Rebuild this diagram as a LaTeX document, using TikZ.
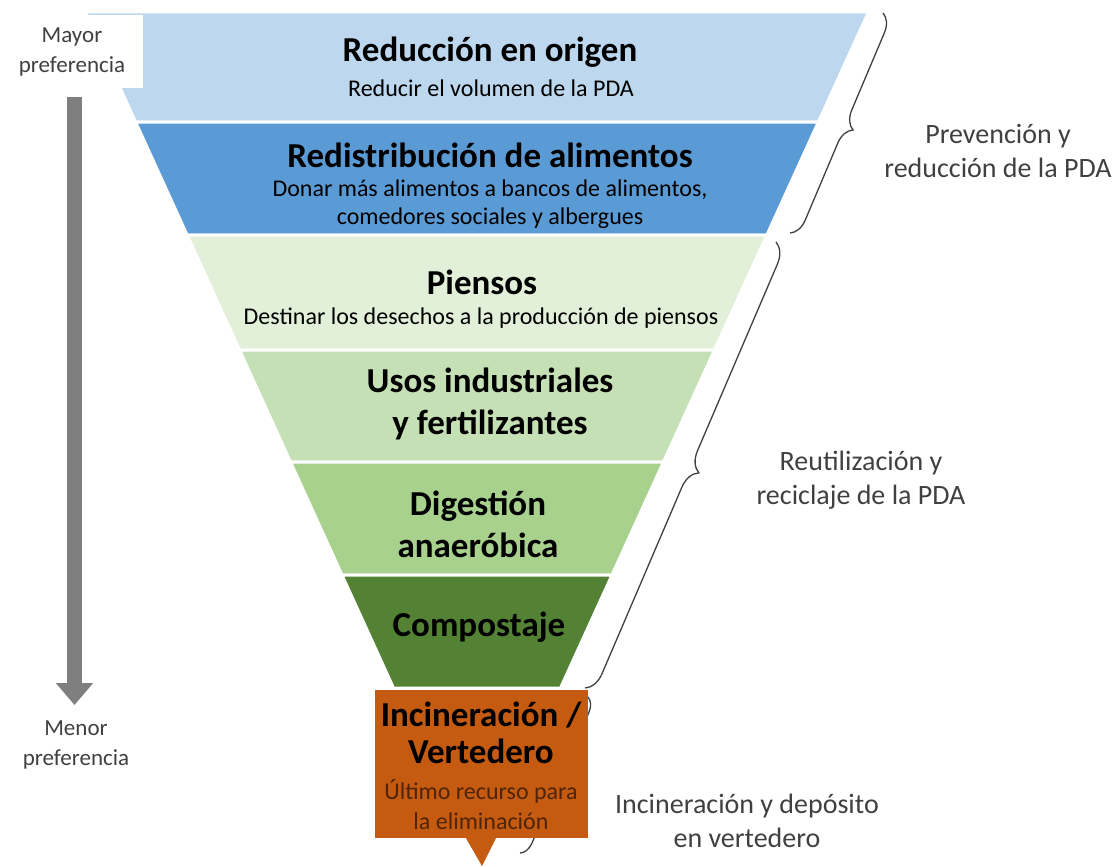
\documentclass[tikz,border=0pt]{standalone}
\usepackage{fontspec}
\setmainfont{Carlito}
\usetikzlibrary{arrows.meta,decorations.pathreplacing}

\definecolor{lvla}{HTML}{BDD7EE}
\definecolor{lvlb}{HTML}{5B9BD5}
\definecolor{lvlc}{HTML}{E2F0D9}
\definecolor{lvld}{HTML}{C5E0B4}
\definecolor{lvle}{HTML}{A9D18E}
\definecolor{lvlf}{HTML}{548235}
\definecolor{lvlg}{HTML}{C55A11}
\definecolor{subbrown}{HTML}{4F2407}
\definecolor{labgray}{HTML}{404040}
\definecolor{arrgray}{HTML}{7F7F7F}

\begin{document}
\begin{tikzpicture}[x=1pt,y=-1pt,
    band/.style={draw=white, line width=3pt},
    title/.style={font=\fontsize{35}{42}\selectfont\bfseries, align=center},
    sub/.style={font=\fontsize{24}{28}\selectfont, align=center},
    side/.style={font=\fontsize{28}{34}\selectfont, text=labgray, align=center},
    pref/.style={font=\fontsize{23}{30}\selectfont, text=labgray, align=center},
    bracestyle/.style={draw=labgray, line width=1.3pt, decorate}]

      \useasboundingbox (0,0) rectangle (1117,867);

      % funnel
      \path[band, fill=lvla] (85.5,12) -- (868.5,12) -- (818.4,122) -- (135.6,122) -- cycle;
      \path[band, fill=lvlb] (135.6,122) -- (818.4,122) -- (766.9,235) -- (187.1,235) -- cycle;
      \path[band, fill=lvlc] (187.1,235) -- (766.9,235) -- (714.5,350) -- (239.5,350) -- cycle;
      \path[band, fill=lvld] (239.5,350) -- (714.5,350) -- (663.5,462) -- (290.5,462) -- cycle;
      \path[band, fill=lvle] (290.5,462) -- (663.5,462) -- (612,575) -- (342,575) -- cycle;
      \path[band, fill=lvlf] (342,575) -- (612,575) -- (560.5,688) -- (393.5,688) -- cycle;
      \fill[white] (0,15) rectangle (143,88);

      % braces
      \coordinate (b1a) at (883,13);
      \coordinate (b1b) at (790,233);
      \coordinate (b2a) at (776,242);
      \coordinate (b2b) at (585,688);
      \coordinate (b3a) at (588,697);
      \coordinate (b3b) at (520,853);
      \draw[bracestyle, decoration={brace, amplitude=18pt}] (b1a) -- (b1b);
      \draw[bracestyle, decoration={brace, amplitude=20pt}] (b2a) -- (b2b);
      \draw[bracestyle, decoration={brace, amplitude=14pt}] (b3a) -- (b3b);

      % last resort box
      \node[fill=lvlg, minimum width=213pt, minimum height=148pt, inner sep=0pt] (box) at (481,764) {};
      \fill[lvlg] (box.south) ++(-15,0) -- ++(30,0) -- (482,866) -- cycle;

      \begin{scope}[every node/.style={title}]
        \node (t1) at (490,52)  {Reducción en origen};
        \node (t2) at (490,155) {Redistribución de alimentos};
        \node (t3) at (482,282) {Piensos};
        \node (t4) at (490,404) {Usos industriales\\y fertilizantes};
        \node (t5) at (478,524) {Digestión\\anaeróbica};
        \node (t6) at (479,627) {Compostaje};
        \node[font=\fontsize{35}{37}\selectfont\bfseries] (t7) at (481,733) {Incineración /\\Vertedero};
      \end{scope}

      \begin{scope}[every node/.style={sub}]
        \node (s1) at (491,88)  {Reducir el volumen de la PDA};
        \node (s2) at (490,204) {Donar más alimentos a bancos de alimentos,\\comedores sociales y albergues};
        \node (s3) at (481,318) {Destinar los desechos a la producción de piensos};
        \node[text=subbrown, font=\fontsize{24}{30}\selectfont] (s7) at (481,805) {Último recurso para\\la eliminación};
      \end{scope}

      \node[side] (prev) at (998,151) {Prevención y\\reducción de la PDA};
      \node[side] (reut) at (861,480) {Reutilización y\\reciclaje de la PDA};
      \node[side] (inci) at (747,821) {Incineración y depósito\\en vertedero};

      \node[pref] (mayor) at (72,52)  {Mayor\\preferencia};
      \node[pref] (menor) at (76,745) {Menor\\preferencia};
      \coordinate (arrtop) at (74.5,97);
      \coordinate (arrtip) at (74.5,705);
      \draw[arrgray, line width=15pt, -{Triangle[width=36pt,length=22pt]}] (arrtop) -- (arrtip);

    \end{tikzpicture}
\end{document}
